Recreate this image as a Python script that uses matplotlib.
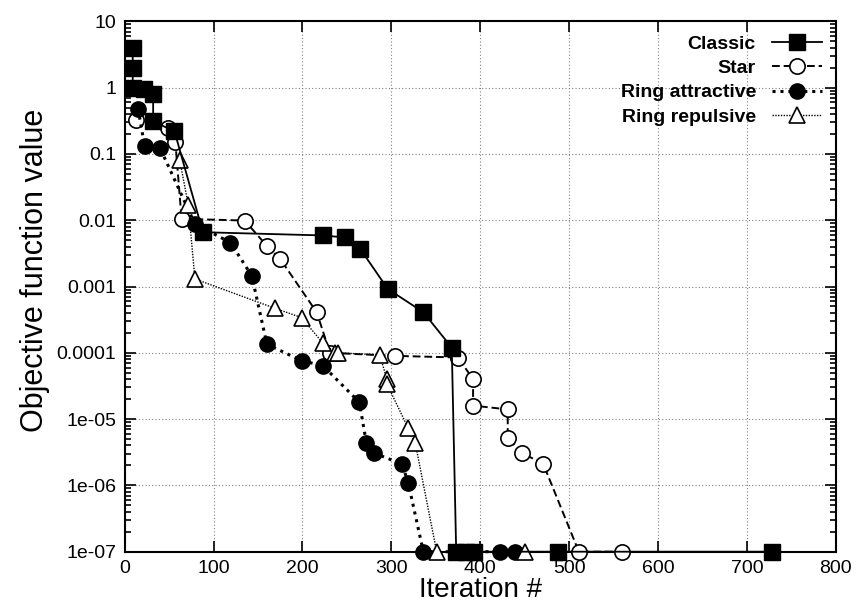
import numpy as np
import matplotlib.pyplot as plt
from matplotlib.ticker import FuncFormatter, LogLocator

plt.rcParams['font.family'] = ['Liberation Sans', 'DejaVu Sans']

# values (bottom row = value clipped at 1e-7)
classic_x = [9, 9, 9, 22, 32, 32, 56, 88, 223, 248, 265, 296, 336, 368,
             373, 384, 393, 488, 728]
classic_y = [3.9, 2.0, 1.0, 0.95, 0.8, 0.31, 0.22, 0.0066, 0.0059, 0.0055,
             0.0037, 0.00092, 0.00041, 0.00012, 1e-7, 1e-7, 1e-7, 1e-7, 1e-7]

star_x = [13, 49, 57, 64, 135, 160, 175, 216, 231, 304, 375, 392, 392,
          431, 431, 447, 471, 511, 560]
star_y = [0.33, 0.25, 0.15, 0.0105, 0.0099, 0.0041, 0.0026, 0.00041, 0.0001,
          9e-5, 8.5e-5, 4e-5, 1.6e-5, 1.4e-5, 5.2e-6, 3.1e-6, 2.1e-6, 1e-7, 1e-7]

attr_x = [15, 22.5, 39.5, 79, 119, 143, 160, 199, 223, 264, 272, 280,
          312, 319, 336, 392, 422, 439]
attr_y = [0.48, 0.13, 0.125, 0.0088, 0.0046, 0.00145, 0.000135, 7.6e-5,
          6.4e-5, 1.8e-5, 4.3e-6, 3.1e-6, 2.1e-6, 1.1e-6, 1e-7, 1e-7, 1e-7, 1e-7]

rep_x = [62, 71.5, 79, 169, 199, 223, 237, 240, 287, 295, 295, 319, 327,
         351, 450]
rep_y = [0.08, 0.017, 0.0013, 0.00047, 0.00034, 0.00014, 0.0001, 0.0001,
         9.3e-5, 4.0e-5, 3.4e-5, 7.3e-6, 4.3e-6, 1e-7, 1e-7]

ytick_vals = [1e-7, 1e-6, 1e-5, 1e-4, 1e-3, 1e-2, 1e-1, 1, 10]
ytick_labels = ['1e-07', '1e-06', '1e-05', '0.0001', '0.001', '0.01', '0.1', '1', '10']

fig = plt.figure(figsize=(8.66, 6.04), dpi=100)
ax = fig.add_axes([0.144, 0.0866, 0.821, 0.878])

ax.plot(classic_x, classic_y, color='black', lw=1.3, ls='-',
        marker='s', ms=11, mfc='black', mec='black', clip_on=False,
        label='Classic', zorder=4)
ax.plot(star_x, star_y, color='black', lw=1.4, ls=(0, (4, 2)),
        marker='o', ms=11, mfc='white', mec='black', mew=1.2, clip_on=False,
        label='Star', zorder=3)
ax.plot(attr_x, attr_y, color='black', lw=2.2, ls=(0, (1, 1.6)),
        marker='o', ms=11, mfc='black', mec='black', clip_on=False,
        label='Ring attractive', zorder=3)
ax.plot(rep_x, rep_y, color='black', lw=1.0, ls=(0, (1, 1)),
        marker='^', ms=11, mfc='white', mec='black', mew=1.2, clip_on=False,
        label='Ring repulsive', zorder=3)

ax.set_yscale('log')
ax.set_xlim(0, 800)
ax.set_ylim(1e-7, 10)
ax.set_xticks(np.arange(0, 801, 100))
ax.set_yticks(ytick_vals)
ax.set_yticklabels(ytick_labels)
ax.yaxis.set_minor_locator(LogLocator(base=10, subs=np.arange(2, 10)))
ax.yaxis.set_minor_formatter(FuncFormatter(lambda v, p: ''))

ax.tick_params(which='both', direction='in', top=True, right=True,
               labelsize=14, width=1.2)
ax.tick_params(which='major', length=8, pad=6)
ax.tick_params(which='minor', length=4)
for s in ax.spines.values():
    s.set_linewidth(1.5)

ax.grid(True, which='major', ls=(0, (1, 2)), color='gray', lw=0.8)

ax.set_xlabel('Iteration #', fontsize=20, labelpad=0)
ax.set_ylabel('Objective function value', fontsize=22)
ax.yaxis.set_label_coords(-0.105, 0.53)

ax.legend(loc='upper right', frameon=False, markerfirst=False,
          handlelength=2.6, prop={'weight': 'bold', 'size': 14},
          labelspacing=0.35, borderaxespad=0.3)

fig.savefig('out.png', dpi=100)
